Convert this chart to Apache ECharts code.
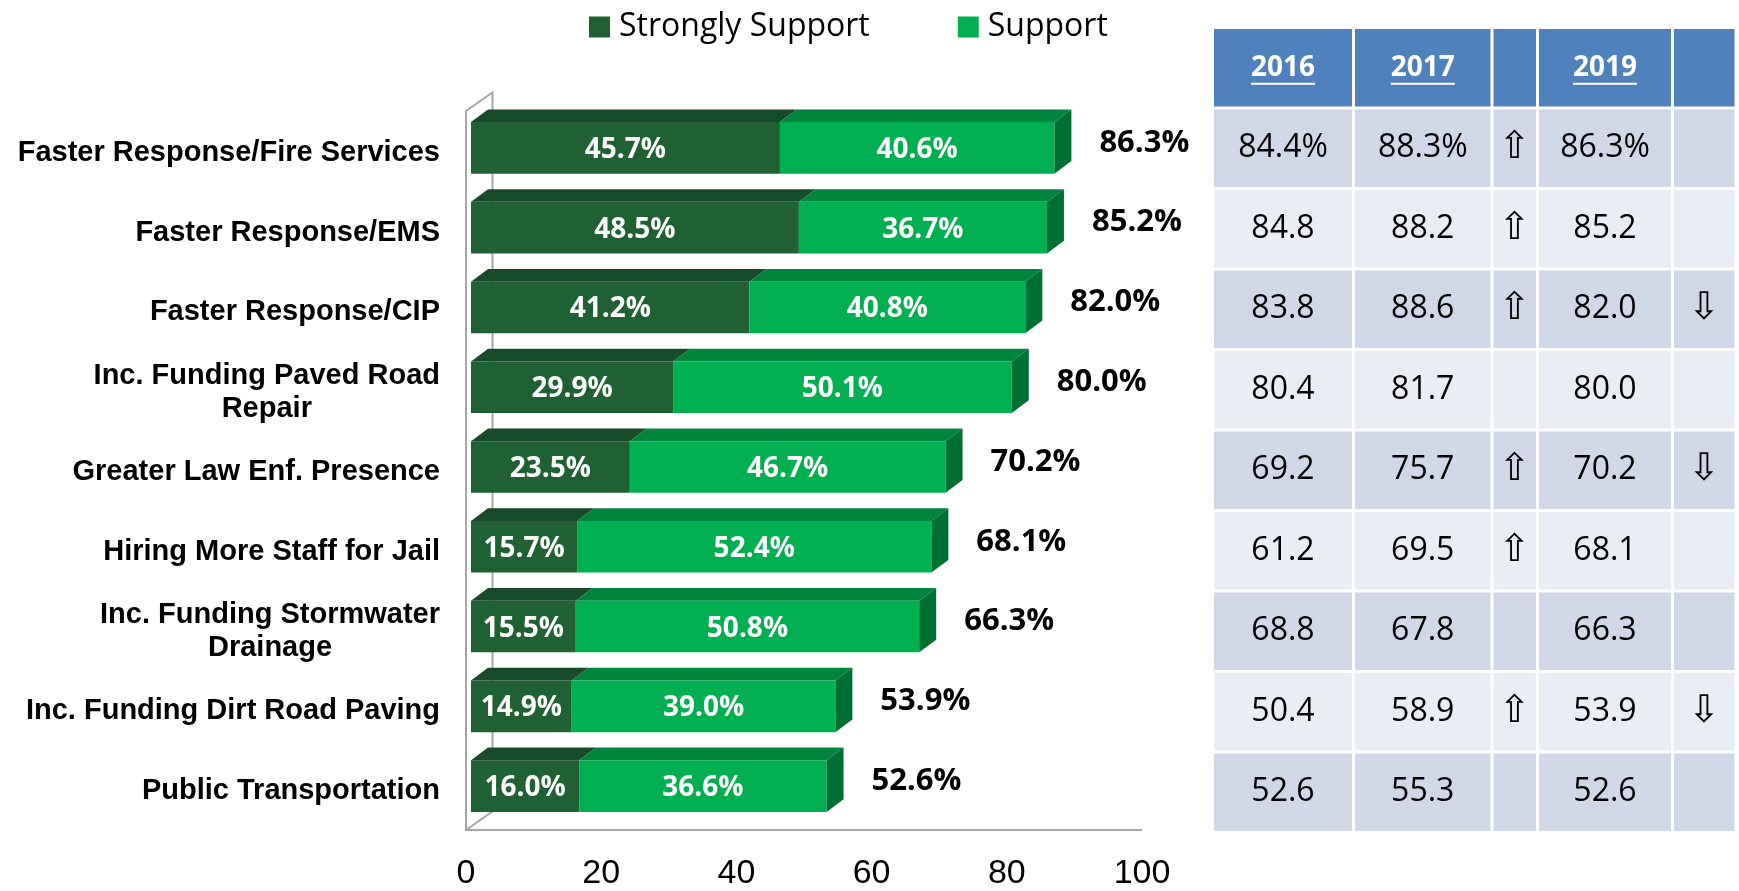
<!DOCTYPE html>
<html>
<head>
<meta charset="utf-8">
<title>Support for county services</title>
<script src="https://cdn.jsdelivr.net/npm/echarts@6/dist/echarts.min.js"></script>
<style>
  html, body { margin: 0; padding: 0; background: #fff; }
  #chart { width: 1739px; height: 891px; }
</style>
</head>
<body>
<div id="chart"></div>
<script>
// bar chart data (top to bottom)
const categories = [
  'Faster Response/Fire Services',
  'Faster Response/EMS',
  'Faster Response/CIP',
  'Inc. Funding Paved Road\nRepair',
  'Greater Law Enf. Presence',
  'Hiring More Staff for Jail',
  'Inc. Funding Stormwater\nDrainage',
  'Inc. Funding Dirt Road Paving',
  'Public Transportation'
]
const stronglySupport = [45.7, 48.5, 41.2, 29.9, 23.5, 15.7, 15.5, 14.9, 16.0]
const support = [40.6, 36.7, 40.8, 50.1, 46.7, 52.4, 50.8, 39.0, 36.6]
const totals = [86.3, 85.2, 82.0, 80.0, 70.2, 68.1, 66.3, 53.9, 52.6]
const xTicks = [0, 20, 40, 60, 80, 100]

// comparison table
const tableYears = ['2016', '2017', '', '2019', '']
const pct2016 = ['84.4%', '84.8', '83.8', '80.4', '69.2', '61.2', '68.8', '50.4', '52.6']
const pct2017 = ['88.3%', '88.2', '88.6', '81.7', '75.7', '69.5', '67.8', '58.9', '55.3']
const trend2017 = ['up', 'up', 'up', '', 'up', 'up', '', 'up', '']
const pct2019 = ['86.3%', '85.2', '82.0', '80.0', '70.2', '68.1', '66.3', '53.9', '52.6']
const trend2019 = ['', '', 'down', '', 'down', '', '', 'down', '']

// layout / style constants
const DARK = { front: '#1F6133', top: '#174A28' }
const GREEN = { front: '#00B050', top: '#00853C', side: '#006F32' }
const BAR = { ratio: 0.647, shiftX: 5, shiftY: -4, dx: 17, dy: -12.7 }
const WALL = { dx: 26.5, dy: -18.5, color: '#a6a6a6' }
const colSpans = [141, 138.5, 45.5, 135, 63.5]
const CELL_GAP = 3
const ARROWS = { up: '\u21E7', down: '\u21E9' }

const colEdges = colSpans.reduce((acc, w) => { acc.push(acc[acc.length - 1] + w); return acc }, [0])
const tableColumns = [pct2016, pct2017, trend2017, pct2019, trend2019]

const measureCtx = document.createElement('canvas').getContext('2d')
function textWidth (text, font) {
  measureCtx.font = font
  return measureCtx.measureText(text).width
}

function renderFrame (params) {
  const r = params.coordSys
  const x0 = r.x
  const top = r.y - 1
  const bot = r.y + r.height
  return {
    type: 'polyline',
    shape: {
      points: [[x0 + r.width, bot], [x0, bot], [x0, top], [x0 + WALL.dx, top + WALL.dy],
        [x0 + WALL.dx, bot + WALL.dy], [x0, bot]]
    },
    style: { stroke: WALL.color, lineWidth: 2, fill: null }
  }
}

function barRenderer (faces, withSide) {
  return function (params, api) {
    const row = api.value(2)
    const a = api.coord([api.value(0), row])
    const b = api.coord([api.value(1), row])
    const h = api.size([0, 1])[1] * BAR.ratio
    const x0 = a[0] + BAR.shiftX
    const x1 = b[0] + BAR.shiftX
    const cy = a[1] + BAR.shiftY
    const top = cy - h / 2
    const bottom = cy + h / 2
    const children = [{
      type: 'polygon',
      shape: { points: [[x0, top], [x0 + BAR.dx, top + BAR.dy], [x1 + BAR.dx, top + BAR.dy], [x1, top]] },
      style: { fill: faces.top }
    }, {
      type: 'rect',
      shape: { x: x0, y: top, width: x1 - x0, height: h },
      style: { fill: faces.front }
    }]
    if (withSide) {
      children.push({
        type: 'polygon',
        shape: { points: [[x1, top], [x1 + BAR.dx, top + BAR.dy], [x1 + BAR.dx, bottom + BAR.dy], [x1, bottom]] },
        style: { fill: faces.side }
      })
    }
    children.push({
      type: 'text',
      style: {
        text: api.value(3).toFixed(1) + '%',
        x: (x0 + x1) / 2,
        y: cy + 2,
        align: 'center',
        verticalAlign: 'middle',
        fill: '#fff',
        font: 'bold 28px "Open Sans"'
      }
    })
    return { type: 'group', children }
  }
}

function renderTotal (params, api) {
  const p = api.coord([api.value(0), api.value(1)])
  return {
    type: 'text',
    style: {
      text: api.value(0).toFixed(1) + '%',
      x: p[0] + BAR.shiftX + BAR.dx + 28,
      y: p[1] - 9,
      align: 'left',
      verticalAlign: 'middle',
      fill: '#000',
      font: 'bold 31px "Open Sans"'
    }
  }
}

const CAT_FONT = 'bold 29px "Liberation Sans"'
function renderCategory (params, api) {
  const i = api.value(1)
  const p = api.coord([0, i])
  const lines = categories[i].split('\n')
  const w = Math.max(...lines.map(l => textWidth(l, CAT_FONT)))
  return {
    type: 'text',
    style: {
      text: categories[i],
      x: p[0] - 26 - w / 2,
      y: p[1] + 1,
      align: 'center',
      verticalAlign: 'middle',
      lineHeight: 33,
      fill: '#000',
      font: CAT_FONT
    }
  }
}

const HEAD_FONT = 'bold 28px "Open Sans"'
function renderCell (params, api) {
  const col = api.value(0)
  const row = api.value(1)
  const l = api.coord([colEdges[col], row])
  const r = api.coord([colEdges[col + 1], row])
  const h = api.size([0, 1])[1]
  const x = l[0] + CELL_GAP / 2
  const w = r[0] - l[0] - CELL_GAP
  const y = l[1] - h / 2 + CELL_GAP / 2
  const cx = x + w / 2
  const cy = l[1]
  const fill = row === 0 ? '#4F81BD' : (row % 2 === 1 ? '#D0D8E8' : '#E9EDF4')
  const children = [{ type: 'rect', shape: { x, y, width: w, height: h - CELL_GAP }, style: { fill } }]
  if (row === 0) {
    const label = tableYears[col]
    if (label) {
      const tw = textWidth(label, HEAD_FONT)
      children.push({
        type: 'text',
        style: { text: label, x: cx, y: cy, align: 'center', verticalAlign: 'middle', fill: '#fff', font: HEAD_FONT }
      }, {
        type: 'rect',
        shape: { x: cx - tw / 2, y: cy + 15, width: tw, height: 2 },
        style: { fill: '#fff' }
      })
    }
  } else {
    const v = tableColumns[col][row - 1]
    if (ARROWS[v]) {
      children.push({
        type: 'text',
        style: { text: ARROWS[v], x: cx, y: cy, align: 'center', verticalAlign: 'middle', fill: '#000', font: '38px "DejaVu Sans"' }
      })
    } else if (v) {
      children.push({
        type: 'text',
        style: { text: v, x: cx, y: cy, align: 'center', verticalAlign: 'middle', fill: '#000', font: '32px "Open Sans"' }
      })
    }
  }
  return { type: 'group', children }
}

const tableCells = []
for (let r = 0; r <= categories.length; r++) {
  for (let c = 0; c < tableYears.length; c++) tableCells.push([c, r])
}

const chart = echarts.init(document.getElementById('chart'))
chart.setOption({
  animation: false,
  legend: {
    data: ['Strongly Support', 'Support'],
    left: 584,
    top: 6,
    icon: 'rect',
    itemWidth: 21,
    itemHeight: 21,
    itemGap: 88,
    selectedMode: false,
    textStyle: { fontFamily: 'Open Sans', fontSize: 32, color: '#000', padding: [0, 0, 0, 4] }
  },
  grid: [
    { left: 466, width: 676, top: 112, bottom: 61 },
    { left: 1212.5, width: colEdges[colEdges.length - 1], top: 27.5, height: 805 }
  ],
  xAxis: [{
    gridIndex: 0,
    type: 'value',
    min: xTicks[0],
    max: xTicks[xTicks.length - 1],
    interval: xTicks[1] - xTicks[0],
    axisLine: { show: false },
    axisTick: { show: false },
    splitLine: { show: false },
    axisLabel: { fontFamily: 'Liberation Sans', fontSize: 34, color: '#000', margin: 27 }
  }, {
    gridIndex: 1,
    type: 'value',
    min: 0,
    max: colEdges[colEdges.length - 1],
    show: false
  }],
  yAxis: [{
    gridIndex: 0,
    type: 'category',
    data: categories,
    inverse: true,
    axisLine: { show: false },
    axisTick: { show: false },
    axisLabel: { show: false }
  }, {
    gridIndex: 1,
    type: 'category',
    data: ['', ...categories],
    inverse: true,
    show: false
  }],
  series: [{
    name: 'frame',
    type: 'custom',
    clip: false,
    silent: true,
    renderItem: renderFrame,
    data: [[0, 0]]
  }, {
    name: 'Strongly Support',
    type: 'custom',
    clip: false,
    itemStyle: { color: DARK.front },
    encode: { x: [0, 1], y: 2 },
    renderItem: barRenderer(DARK, false),
    data: stronglySupport.map((v, i) => [0, v, i, v])
  }, {
    name: 'Support',
    type: 'custom',
    clip: false,
    itemStyle: { color: GREEN.front },
    encode: { x: [0, 1], y: 2 },
    renderItem: barRenderer(GREEN, true),
    data: support.map((v, i) => [stronglySupport[i], stronglySupport[i] + v, i, v])
  }, {
    name: 'total',
    type: 'custom',
    clip: false,
    encode: { x: 0, y: 1 },
    renderItem: renderTotal,
    data: totals.map((v, i) => [v, i])
  }, {
    name: 'categories',
    type: 'custom',
    clip: false,
    encode: { x: 0, y: 1 },
    renderItem: renderCategory,
    data: categories.map((c, i) => [0, i])
  }, {
    name: 'table',
    type: 'custom',
    xAxisIndex: 1,
    yAxisIndex: 1,
    clip: false,
    encode: { x: 0, y: 1 },
    renderItem: renderCell,
    data: tableCells
  }]
})
</script>
</body>
</html>
